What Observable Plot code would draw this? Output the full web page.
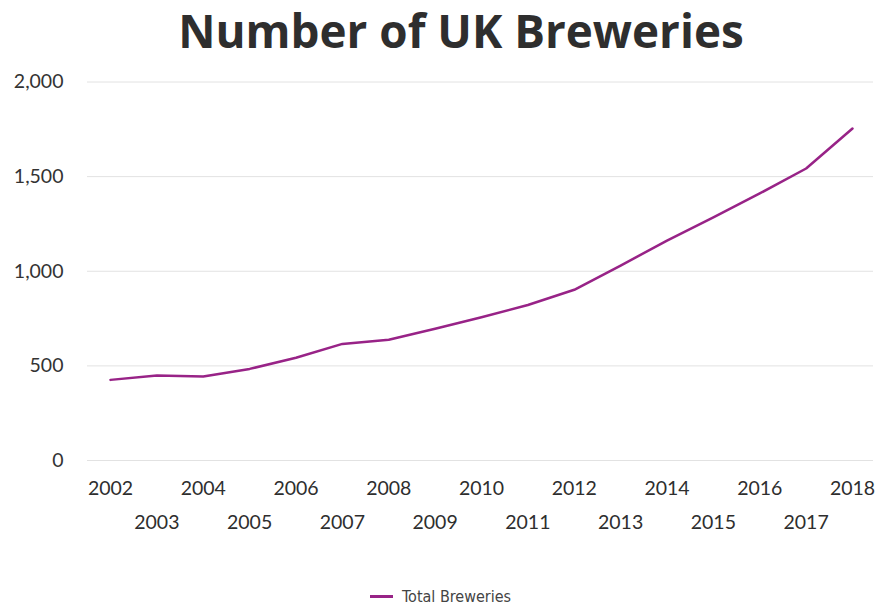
<!DOCTYPE html>
<html>
<head>
<meta charset="utf-8">
<script src="https://cdn.jsdelivr.net/npm/d3@7"></script>
<script src="https://cdn.jsdelivr.net/npm/@observablehq/plot@0.6"></script>
<style>
  html, body { margin: 0; padding: 0; background: #fff; }
  #wrap { position: relative; width: 875px; height: 605px; overflow: hidden; }
  #title {
    position: absolute; left: 0; top: 0; width: 922px; height: 60px;
    text-align: center; font-family: "Open Sans", sans-serif; font-weight: 700;
    font-size: 45.8px; line-height: 60px; color: #2e2e2e;
  }
  #chart { position: absolute; left: 0; top: 60px; }
  #legend {
    position: absolute; left: 370px; top: 586px; height: 20px;
    display: flex; align-items: center; gap: 9px;
    font-family: "DejaVu Sans", sans-serif; font-stretch: condensed;
    font-size: 16px; color: #444;
  }
  #legend .swatch { width: 23px; height: 3px; background: #982387; }
</style>
</head>
<body>
<div id="wrap">
  <div id="title">Number of UK Breweries</div>
  <div id="chart"></div>
  <div id="legend"><span class="swatch"></span><span>Total Breweries</span></div>
</div>
<script>
// Total UK breweries per year
const years = [2002, 2003, 2004, 2005, 2006, 2007, 2008, 2009, 2010, 2011, 2012, 2013, 2014, 2015, 2016, 2017, 2018];
const breweries = [426, 449, 444, 484, 543, 616, 638, 696, 757, 822, 902, 1030, 1162, 1285, 1411, 1543, 1754];
const yTicks = [0, 500, 1000, 1500, 2000];
const seriesName = "Total Breweries";

const data = years.map((year, i) => ({year, value: breweries[i], series: seriesName}));
const evenYears = years.filter(y => y % 2 === 0);
const oddYears = years.filter(y => y % 2 === 1);

const tickFont = "Lato, sans-serif";

const chart = Plot.plot({
  width: 875,
  height: 520,
  marginTop: 21.5,
  marginBottom: 120,
  marginLeft: 87,
  marginRight: 2,
  style: {background: "#fff", overflow: "visible"},
  x: {domain: [2002, 2018], insetLeft: 23, insetRight: 21, axis: null},
  y: {domain: [0, 2000]},
  marks: [
    Plot.ruleY(yTicks, {stroke: "#e2e2e2", strokeWidth: 1}),
    Plot.axisY({
      ticks: yTicks, tickSize: 0, tickPadding: 24, label: null,
      tickFormat: d3.format(","), fontSize: 19.5, fill: "#333",
      fontFamily: tickFont
    }),
    // year labels staggered over two rows
    Plot.text(evenYears, {
      x: d => d, text: d => String(d), frameAnchor: "bottom", dy: 28,
      lineAnchor: "middle", fontSize: 19.5, fill: "#2e2e2e", fontFamily: tickFont
    }),
    Plot.text(oddYears, {
      x: d => d, text: d => String(d), frameAnchor: "bottom", dy: 62,
      lineAnchor: "middle", fontSize: 19.5, fill: "#2e2e2e", fontFamily: tickFont
    }),
    Plot.line(data, {
      x: "year", y: "value", stroke: "#982387", strokeWidth: 2.5,
      strokeLinejoin: "round", strokeLinecap: "round"
    })
  ]
});

document.getElementById("chart").appendChild(chart);
</script>
</body>
</html>
